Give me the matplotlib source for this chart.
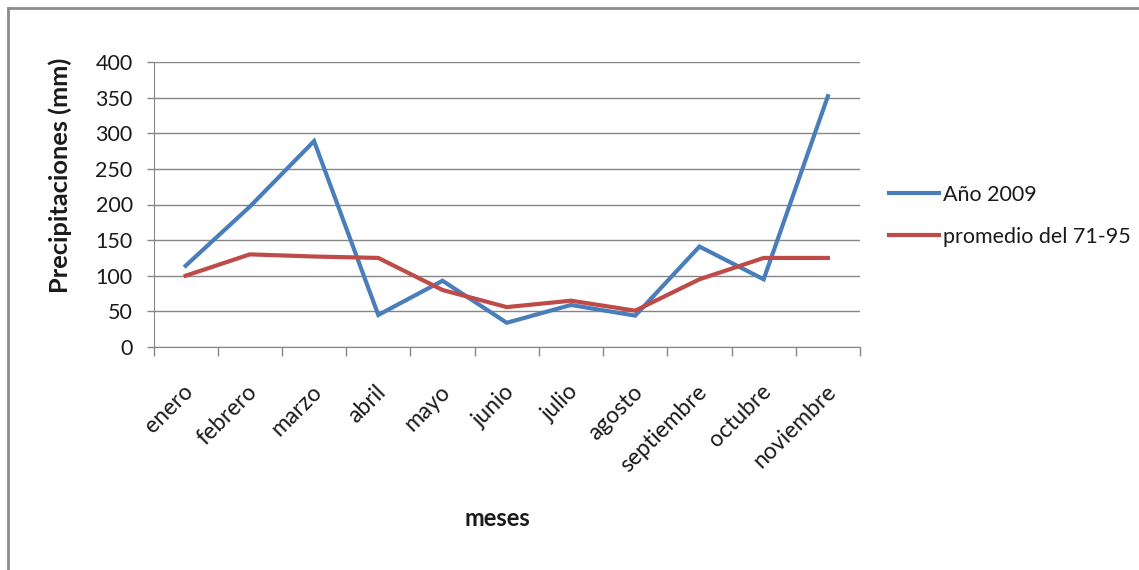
import matplotlib
matplotlib.use("Agg")
import matplotlib.pyplot as plt
from matplotlib.lines import Line2D
import matplotlib.transforms as mtransforms

plt.rcParams['font.family'] = ['Lato', 'DejaVu Sans']

meses = ["enero", "febrero", "marzo", "abril", "mayo", "junio", "julio",
         "agosto", "septiembre", "octubre", "noviembre"]
anio_2009 = [114, 197, 289, 45, 93, 34, 59, 44, 141, 95, 352]
promedio_71_95 = [100, 130, 127, 125, 80, 56, 65, 51, 95, 125, 125]
y_ticks = [0, 50, 100, 150, 200, 250, 300, 350, 400]

W, H = 1139, 570
fig = plt.figure(figsize=(W / 100, H / 100), dpi=100)

# chart-area frame (runs off the right and bottom edges)
frame = '#8c8c8c'
fig.add_artist(Line2D([8 / W, 1.0], [1 - 8 / H, 1 - 8 / H], color=frame, lw=2, transform=fig.transFigure))
fig.add_artist(Line2D([8 / W, 8 / W], [0, 1 - 8 / H], color=frame, lw=2, transform=fig.transFigure))

left, right, top, bottom = 153.5, 860, 62, 347
ax = fig.add_axes([left / W, 1 - bottom / H, (right - left) / W, (bottom - top) / H])

x = list(range(len(meses)))
ax.plot(x, anio_2009, color='#4A7EBB', lw=3, solid_joinstyle='miter', label='Año 2009')
ax.plot(x, promedio_71_95, color='#BE4B48', lw=3, solid_joinstyle='miter', label='promedio del 71-95')

ax.set_xlim(-0.5, len(meses) - 0.5)
ax.set_ylim(0, 400)

grid_c = '#868686'
txt_c = '#1a1a1a'
ax.set_yticks(y_ticks)
ax.set_yticklabels([str(v) for v in y_ticks], fontsize=15.5, color=txt_c)
ax.yaxis.grid(True, color=grid_c, lw=1)
ax.set_axisbelow(True)
ax.tick_params(axis='y', length=5, width=1, color=grid_c, pad=10)

# category boundaries carry the tick marks; labels sit on the centers
ax.set_xticks([i - 0.5 for i in range(len(meses) + 1)])
ax.set_xticklabels([])
ax.tick_params(axis='x', length=6.5, width=1, color=grid_c)
offset = mtransforms.ScaledTranslation(-3 / 100, -34 / 100, fig.dpi_scale_trans)
for i, m in enumerate(meses):
    ax.text(i, 0, m, transform=ax.get_xaxis_transform() + offset, rotation=45,
            rotation_mode='anchor', ha='right', va='top', fontsize=16.5, color=txt_c)

for s in ['top', 'right']:
    ax.spines[s].set_visible(False)
ax.spines['left'].set_color(grid_c)
ax.spines['bottom'].set_color(grid_c)

fig.text(60 / W, 1 - 175 / H, 'Precipitaciones (mm)', rotation=90, ha='center', va='center',
         fontsize=18.3, fontweight='bold', color=txt_c)
fig.text(497 / W, 1 - 518 / H, 'meses', ha='center', va='center',
         fontsize=17, fontweight='bold', color=txt_c)

leg = ax.legend(loc='upper left', bbox_to_anchor=(889 / W, 1 - 185 / H), bbox_transform=fig.transFigure,
                frameon=False, fontsize=15.5, handlelength=2.3, handletextpad=0.2, labelspacing=1.0,
                borderpad=0, borderaxespad=0)
for t in leg.get_texts():
    t.set_color(txt_c)

fig.savefig('out.png', dpi=100)
